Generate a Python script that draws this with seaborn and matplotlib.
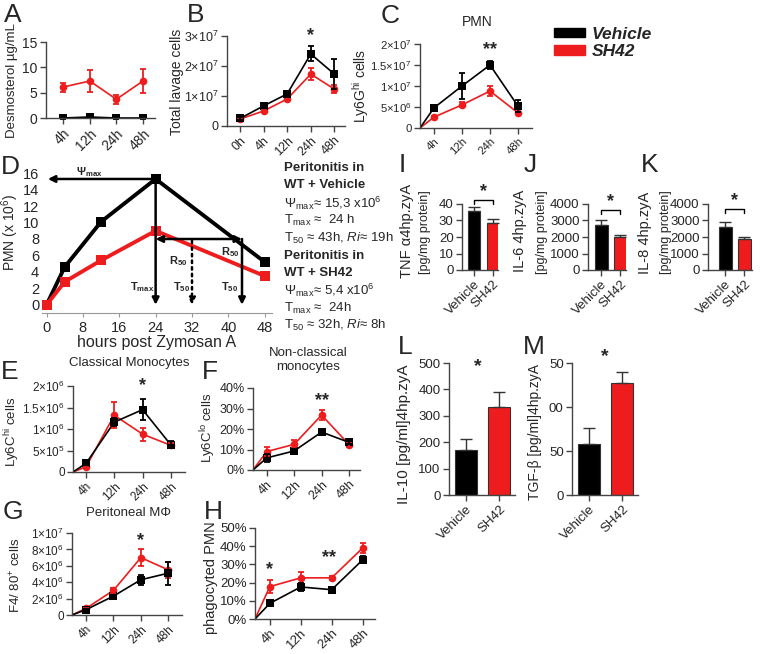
import numpy as np
import pandas as pd
import matplotlib
matplotlib.use('Agg')
import matplotlib.pyplot as plt
import seaborn as sns
from matplotlib.patches import Patch

sns.set_style('ticks')
plt.rcParams['font.family'] = ['Liberation Sans', 'DejaVu Sans']
plt.rcParams['mathtext.fontset'] = 'custom'
plt.rcParams['mathtext.rm'] = 'Liberation Sans'
plt.rcParams['mathtext.it'] = 'Liberation Sans:italic'
plt.rcParams['mathtext.bf'] = 'Liberation Sans:bold'

# ---- data ----
groups = ['Vehicle', 'SH42']
palette = {'Vehicle': 'black', 'SH42': '#ee1c1c'}
times4 = ['4h', '12h', '24h', '48h']
times5 = ['0h', '4h', '12h', '24h', '48h']

a_veh = [0.0, 0.2, 0.0, 0.0]
a_veh_err = [0.1, 0.2, 0.1, 0.1]
a_sh = [6.1, 7.3, 3.7, 7.3]
a_sh_err = [0.9, 2.2, 0.9, 2.3]

b_veh = [2.5e6, 6.7e6, 1.07e7, 2.4e7, 1.73e7]
b_veh_err = [0.5e6, 0.8e6, 1.0e6, 2.5e6, 5.0e6]
b_sh = [2.3e6, 5.0e6, 9.0e6, 1.73e7, 1.23e7]
b_sh_err = [0.3e6, 0.4e6, 0.5e6, 2.0e6, 1.2e6]

c_veh = [4.8e6, 1.0e7, 1.5e7, 5.2e6]
c_veh_err = [0.5e6, 3.0e6, 1.0e6, 1.5e6]
c_sh = [2.6e6, 5.5e6, 8.8e6, 3.6e6]
c_sh_err = [0.3e6, 0.6e6, 1.2e6, 0.3e6]

d_hours = [0, 4, 12, 24, 48]
d_veh = [0, 4.6, 10.1, 15.3, 5.2]
d_sh = [0, 2.8, 5.4, 9.0, 3.5]

e_veh = [0.2e6, 1.16e6, 1.45e6, 0.63e6]
e_veh_err = [0.04e6, 0.1e6, 0.25e6, 0.08e6]
e_sh = [0.12e6, 1.32e6, 0.88e6, 0.62e6]
e_sh_err = [0.03e6, 0.3e6, 0.15e6, 0.06e6]

f_veh = [5.9, 9.3, 18.5, 13.5]
f_veh_err = [2.0, 1.0, 1.5, 1.0]
f_sh = [9.0, 12.5, 26.8, 12.4]
f_sh_err = [2.0, 2.0, 2.5, 1.0]

g_veh = [0.65e6, 2.3e6, 4.3e6, 5.1e6]
g_veh_err = [0.1e6, 0.2e6, 0.6e6, 1.4e6]
g_sh = [0.8e6, 3.0e6, 7.0e6, 5.5e6]
g_sh_err = [0.1e6, 0.3e6, 1.0e6, 1.0e6]

h_veh = [8.6, 17.6, 16.1, 32.5]
h_veh_err = [1.0, 2.0, 1.0, 2.0]
h_sh = [17.8, 22.6, 22.6, 39.0]
h_sh_err = [3.5, 3.0, 1.0, 2.5]

i_vals = [36, 28.5]
i_err = [2.0, 2.5]
j_vals = [2700, 2000]
j_err = [300, 100]
k_vals = [2600, 1900]
k_err = [280, 130]
l_vals = [170, 335]
l_err = [42, 57]
m_vals = [58, 127]
m_err = [18, 13]

W, H = 762, 654
fig = plt.figure(figsize=(W / 100, H / 100), dpi=100)


def box(l, t, r, b):
    return [l / W, 1 - b / H, (r - l) / W, (b - t) / H]


def ftext(x, y, s, **kw):
    return fig.text(x / W, 1 - y / H, s, **kw)


def style_ax(ax, size):
    sns.despine(ax=ax)
    ax.tick_params(labelsize=size, length=4, width=1, color='#444', pad=2)
    for s in ['left', 'bottom']:
        ax.spines[s].set_linewidth(1.0)
        ax.spines[s].set_color('#444')


def timecourse(ax, labels, veh, veh_err, sh, sh_err, xlim, ylim, origin=True, size=9):
    n = len(labels)
    pos = np.arange(n)
    df = pd.DataFrame({'pos': np.concatenate([pos, pos]),
                       'value': list(sh) + list(veh),
                       'group': ['SH42'] * n + ['Vehicle'] * n})
    if origin:
        for vals, g in [(sh, 'SH42'), (veh, 'Vehicle')]:
            sns.lineplot(x=[xlim[0], 0], y=[0, vals[0]], color=palette[g],
                         linewidth=1.2, ax=ax)
    sns.lineplot(data=df, x='pos', y='value', hue='group', style='group',
                 hue_order=['SH42', 'Vehicle'], palette=palette,
                 markers={'Vehicle': 's', 'SH42': 'o'}, dashes=False,
                 markersize=5.5, markeredgewidth=0, linewidth=1.2,
                 legend=False, ax=ax)
    for vals, errs, g in [(sh, sh_err, 'SH42'), (veh, veh_err, 'Vehicle')]:
        ax.errorbar(pos, vals, yerr=errs, fmt='none', ecolor=palette[g],
                    elinewidth=1.3, capsize=2.5, capthick=1.3, clip_on=False)
    ax.set_xlim(*xlim)
    ax.set_ylim(*ylim)
    ax.set_xticks(pos)
    ax.set_xticklabels(labels, rotation=45, ha='right', rotation_mode='anchor')
    ax.set_xlabel('')
    ax.set_ylabel('')
    style_ax(ax, size)


def bars(ax, vals, errs, xlim, ylim, yticks, yticklabels, size=10, width=0.68):
    df = pd.DataFrame({'group': groups, 'value': vals})
    sns.barplot(data=df, x='group', y='value', hue='group', palette=palette,
                order=groups, errorbar=None, width=width, edgecolor='#333',
                linewidth=0.8, saturation=1, legend=False, ax=ax)
    ax.errorbar(range(2), vals, yerr=[[0, 0], errs], fmt='none', ecolor='#333',
                elinewidth=1.0, capsize=4, capthick=1.0, clip_on=False)
    ax.set_xlim(*xlim)
    ax.set_ylim(*ylim)
    ax.set_yticks(yticks)
    ax.set_yticklabels(yticklabels)
    ax.set_xticks(range(2))
    ax.set_xticklabels(groups, rotation=45, ha='right', rotation_mode='anchor')
    ax.set_xlabel('')
    ax.set_ylabel('')
    style_ax(ax, size)


def star(ax, x, y, s, size=13):
    ax.text(x, y, s, ha='center', va='center', fontsize=size, fontweight='bold',
            clip_on=False)


def bracket(ax, y, leg, s):
    ax.plot([0, 0, 1, 1], [y - leg, y, y, y - leg], color='black', lw=1.0,
            clip_on=False)
    ax.text(0.5, y, s, ha='center', va='bottom', fontsize=13, fontweight='bold')


# ---- panel A ----
axA = fig.add_axes(box(46, 42, 155, 118))
timecourse(axA, times4, a_veh, a_veh_err, a_sh, a_sh_err, (-0.64, 3.45), (0, 15),
           origin=False, size=10)
axA.set_yticks([0, 5, 10, 15])
ftext(12, 81, 'Desmosterol µg/mL', rotation=90, ha='center', va='center', fontsize=9.5)

# ---- panel B ----
axB = fig.add_axes(box(227, 36, 345, 126))
timecourse(axB, times5, b_veh, b_veh_err, b_sh, b_sh_err, (-0.55, 4.45), (0, 3e7),
           origin=False, size=9)
axB.set_yticks([0, 1e7, 2e7, 3e7])
axB.set_yticklabels(['0', '1×10$^{7}$', '2×10$^{7}$', '3×10$^{7}$'])
star(axB, 3, 3.0e7, '*')
ftext(177, 82, 'Total lavage cells', rotation=90, ha='center', va='center', fontsize=10)

# ---- panel C ----
axC = fig.add_axes(box(420, 44, 532, 128))
timecourse(axC, times4, c_veh, c_veh_err, c_sh, c_sh_err, (-0.5, 3.5), (0, 2e7), size=8.2)
axC.set_yticks([0, 5e6, 1e7, 1.5e7, 2e7])
axC.set_yticklabels(['0', '5×10$^{6}$', '1×10$^{7}$', '1.5×10$^{7}$', '2×10$^{7}$'])
star(axC, 2, 1.86e7, '**')
ftext(361, 86, 'Ly6G$^{\\mathrm{hi}}$ cells', rotation=90, ha='center', va='center',
      fontsize=10)
ftext(477, 22, 'PMN', ha='center', va='center', fontsize=10)

# legend
fig.legend(handles=[Patch(color=palette[g]) for g in groups], labels=groups,
           loc='upper left', bbox_to_anchor=(538 / W, 1 - 11 / H), frameon=False,
           prop={'weight': 'bold', 'style': 'italic', 'size': 12.5},
           handlelength=1.8, handleheight=0.5, handletextpad=0.4, labelspacing=0.15)

# ---- panel D ----
axD = fig.add_axes(box(42, 165, 272, 313))
sns.lineplot(x=d_hours, y=d_veh, color='black', marker='s', markersize=7.5,
             markeredgewidth=0, linewidth=2.8, ax=axD)
sns.lineplot(x=d_hours, y=d_sh, color=palette['SH42'], marker='s', markersize=7.5,
             markeredgewidth=0, linewidth=2.8, ax=axD)
axD.set_xlim(-1, 49.6)
axD.set_ylim(-1, 17)
axD.set_xticks(range(0, 49, 8))
axD.set_yticks(range(0, 17, 2))
sns.despine(ax=axD, left=True)
axD.spines['bottom'].set_color('#999')
axD.tick_params(axis='y', length=0, labelsize=10.5, pad=2)
axD.tick_params(axis='x', length=3, color='#999', labelsize=10.5, pad=3)
axD.set_xlabel('hours post Zymosan A', fontsize=11.5, labelpad=0)
ftext(10, 232, 'PMN (x 10$^{6}$)', rotation=90, ha='center', va='center', fontsize=10)
arrow = dict(arrowstyle='-|>', color='black', lw=1.8, mutation_scale=10,
             shrinkA=0, shrinkB=0)
axD.annotate('', xy=(0.3, 15.3), xytext=(24, 15.3), arrowprops=arrow)
axD.annotate('', xy=(24, 0), xytext=(24, 15.3), arrowprops=arrow)
axD.annotate('', xy=(43, 0), xytext=(43, 8.0), arrowprops=arrow)
axD.annotate('', xy=(24, 8.0), xytext=(43, 8.0),
             arrowprops=dict(arrowstyle='<|-|>', color='black', lw=1.8,
                             mutation_scale=10, shrinkA=0, shrinkB=0))
axD.annotate('', xy=(32, 0), xytext=(32, 7.8),
             arrowprops=dict(arrowstyle='-|>', color='black', lw=1.8, ls=':',
                             mutation_scale=10, shrinkA=0, shrinkB=0))
ann = dict(ha='center', va='center', fontsize=8, fontweight='bold')
axD.text(9.5, 16.1, r'$\mathbf{\Psi_{max}}$', **ann)
axD.text(21, 2.2, r'$\mathbf{T_{max}}$', **ann)
axD.text(29.7, 2.2, r'$\mathbf{T_{50}}$', **ann)
axD.text(40.2, 2.2, r'$\mathbf{T_{50}}$', **ann)
axD.text(29, 5.3, r'$\mathbf{R_{50}}$', **ann)
axD.text(40.3, 6.4, r'$\mathbf{R_{50}}$', **ann)

d_lines = [('Peritonitis in', 168, 'bold'), ('WT + Vehicle', 185, 'bold'),
           ('Ψ$_{\\mathrm{max}}$≈ 15,3 x10$^{6}$', 203, 'normal'),
           ('T$_{\\mathrm{max}}$ ≈  24 h', 220, 'normal'),
           ('T$_{50}$ ≈ 43h, $\\it{Ri}$≈ 19h', 238, 'normal'),
           ('Peritonitis in', 256, 'bold'), ('WT + SH42', 273, 'bold'),
           ('Ψ$_{\\mathrm{max}}$≈ 5,4 x10$^{6}$', 290, 'normal'),
           ('T$_{\\mathrm{max}}$ ≈  24h', 308, 'normal'),
           ('T$_{50}$ ≈ 32h, $\\it{Ri}$≈ 8h', 325, 'normal')]
for s, y, w in d_lines:
    ftext(284, y, s, ha='left', va='center', fontsize=9.5, fontweight=w)

# ---- panel E ----
axE = fig.add_axes(box(73, 386, 185, 472))
timecourse(axE, times4, e_veh, e_veh_err, e_sh, e_sh_err, (-0.46, 3.5), (0, 2e6),
           size=8.5)
axE.set_yticks([0, 5e5, 1e6, 1.5e6, 2e6])
axE.set_yticklabels(['0', '5×10$^{5}$', '1×10$^{6}$', '1.5×10$^{6}$', '2×10$^{6}$'])
star(axE, 2, 2.0e6, '*')
ftext(12, 432, 'Ly6C$^{\\mathrm{hi}}$ cells', rotation=90, ha='center', va='center',
      fontsize=9.5)
ftext(129, 363, 'Classical Monocytes', ha='center', va='center', fontsize=9.5)

# ---- panel F ----
axF = fig.add_axes(box(253, 388, 360, 470))
timecourse(axF, times4, f_veh, f_veh_err, f_sh, f_sh_err, (-0.5, 3.4), (0, 40))
axF.set_yticks([0, 10, 20, 30, 40])
axF.set_yticklabels(['0%', '10%', '20%', '30%', '40%'])
star(axF, 2, 34, '**')
ftext(208, 428, 'Ly6C$^{\\mathrm{lo}}$ cells', rotation=90, ha='center', va='center',
      fontsize=9.5)
ftext(308, 360, 'Non-classical\nmonocytes', ha='center', va='center', fontsize=9.5,
      linespacing=1.2)

# ---- panel G ----
axG = fig.add_axes(box(72, 533, 182, 615))
timecourse(axG, times4, g_veh, g_veh_err, g_sh, g_sh_err, (-0.51, 3.5), (0, 1e7),
           size=8.5)
axG.set_yticks([0, 2e6, 4e6, 6e6, 8e6, 1e7])
axG.set_yticklabels(['0', '2×10$^{6}$', '4×10$^{6}$', '6×10$^{6}$', '8×10$^{6}$',
                     '1×10$^{7}$'])
star(axG, 2, 9.1e6, '*')
ftext(16, 575, 'F4/ 80$^{+}$ cells', rotation=90, ha='center', va='center', fontsize=9.5)
ftext(128, 513, 'Peritoneal MΦ', ha='center', va='center', fontsize=9.5)

# ---- panel H ----
axH = fig.add_axes(box(255, 528, 375, 619))
timecourse(axH, times4, h_veh, h_veh_err, h_sh, h_sh_err, (-0.48, 3.4), (0, 50), size=9.5)
axH.set_yticks([0, 10, 20, 30, 40, 50])
axH.set_yticklabels(['0%', '10%', '20%', '30%', '40%', '50%'])
star(axH, 0, 27, '*')
star(axH, 1.9, 34, '**')
ftext(211, 578, 'phagocyted PMN', rotation=90, ha='center', va='center', fontsize=10.5)

# ---- panels I, J, K ----
axI = fig.add_axes(box(462, 204, 498, 270))
bars(axI, i_vals, i_err, (-0.63, 1.26), (0, 40), [0, 10, 20, 30, 40],
     ['0', '10', '20', '30', '40'], size=9.5)
bracket(axI, 42.4, 2.5, '*')
ftext(407, 231, 'TNF α4hp.zyA', rotation=90, ha='center', va='center', fontsize=10.5)
ftext(425, 232, '[pg/mg protein]', rotation=90, ha='center', va='center', fontsize=9)

axJ = fig.add_axes(box(588, 204, 626, 270))
bars(axJ, j_vals, j_err, (-0.7, 1.3), (0, 4000), [0, 1000, 2000, 3000, 4000],
     ['0', '1000', '2000', '3000', '4000'], size=9.5)
bracket(axJ, 3650, 250, '*')
ftext(520, 231, 'IL-6 4hp.zyA', rotation=90, ha='center', va='center', fontsize=10.5)
ftext(542, 232, '[pg/mg protein]', rotation=90, ha='center', va='center', fontsize=9)

axK = fig.add_axes(box(708, 204, 752, 270))
bars(axK, k_vals, k_err, (-0.9, 1.4), (0, 4000), [0, 1000, 2000, 3000, 4000],
     ['0', '1000', '2000', '3000', '4000'], size=9.5)
bracket(axK, 3700, 250, '*')
ftext(645, 233, 'IL-8 4hp.zyA', rotation=90, ha='center', va='center', fontsize=10.5)
ftext(666, 232, '[pg/mg protein]', rotation=90, ha='center', va='center', fontsize=9)

# ---- panels L, M ----
axL = fig.add_axes(box(449, 363, 515, 495))
bars(axL, l_vals, l_err, (-0.52, 1.48), (0, 500), [0, 100, 200, 300, 400, 500],
     ['0', '100', '200', '300', '400', '500'], size=9.5)
star(axL, 0.36, 485, '*', size=14)
ftext(404, 434, 'IL-10 [pg/ml]4hp.zyA', rotation=90, ha='center', va='center',
      fontsize=11)

axM = fig.add_axes(box(572, 363, 638, 495))
bars(axM, m_vals, m_err, (-0.52, 1.48), (0, 150), [0, 50, 100, 150],
     ['0', '50', '00', '50'], size=9.5)
star(axM, 0.48, 157, '*', size=14)
ftext(535, 432, 'TGF-β [pg/ml]4hp.zyA', rotation=90, ha='center', va='center',
      fontsize=10)

# ---- panel letters ----
letters = [('A', 4, 3), ('B', 187, 3), ('C', 381, 4), ('D', 1, 155), ('E', 1, 360),
           ('F', 202, 360), ('G', 3, 500), ('H', 204, 500), ('I', 399, 153),
           ('J', 524, 153), ('K', 641, 153), ('L', 398, 335), ('M', 523, 335)]
for s, x, y in letters:
    ftext(x, y, s, ha='left', va='top', fontsize=19)

fig.savefig('out.png', dpi=100)
